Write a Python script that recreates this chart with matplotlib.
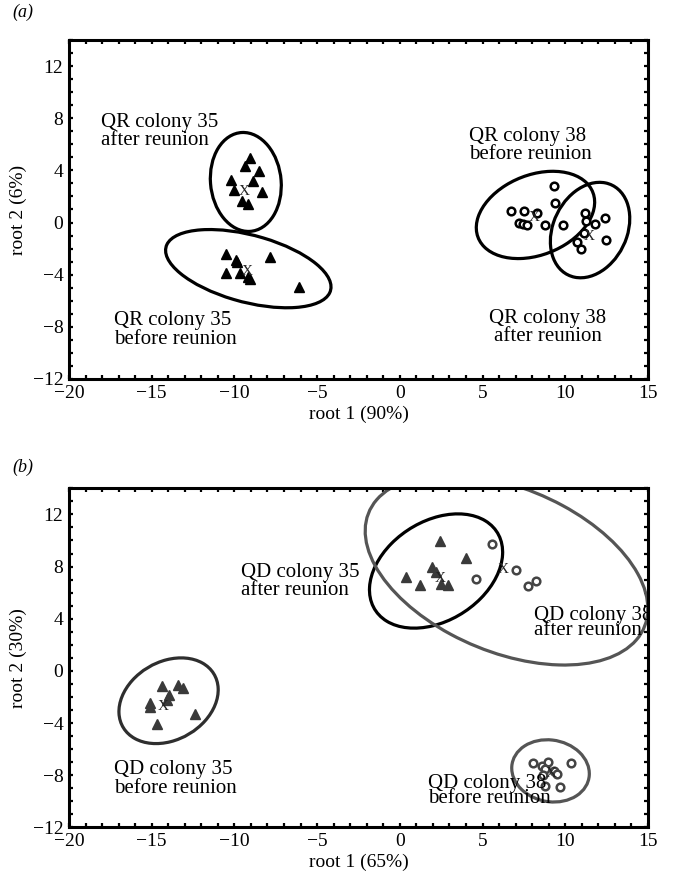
import numpy as np
import matplotlib.pyplot as plt
from matplotlib.patches import Ellipse
from matplotlib.ticker import MultipleLocator

plt.rcParams['font.family'] = ['Liberation Serif', 'DejaVu Serif']
plt.rcParams['mathtext.fontset'] = 'stix'

# ---- panel (a): QR ----
a35_after_x = [-9.03, -9.33, -8.50, -8.85, -10.18, -10.05, -8.31, -9.56, -9.15]
a35_after_y = [4.97, 4.36, 3.92, 3.21, 3.29, 2.52, 2.32, 1.63, 1.40]
a35_before_x = [-10.53, -9.93, -9.84, -7.83, -10.53, -9.65, -9.17, -9.08, -6.07]
a35_before_y = [-2.38, -2.84, -3.02, -2.61, -3.91, -3.88, -4.16, -4.32, -4.93]
a38_before_x = [6.74, 7.53, 8.31, 9.33, 9.35, 7.18, 7.44, 7.69, 8.75, 9.84]
a38_before_y = [0.91, 0.86, 0.71, 2.80, 1.50, -0.03, -0.08, -0.23, -0.16, -0.21]
a38_after_x = [11.20, 11.27, 11.82, 12.42, 11.13, 10.74, 10.97, 12.45]
a38_after_y = [0.76, 0.15, -0.08, 0.33, -0.80, -1.48, -2.00, -1.36]
a_centroids = [(-9.42, 2.39), (-9.24, -3.78), (8.13, 0.35), (11.43, -1.05)]
# ellipse: centre x, centre y, var x, var y, cov xy
a_ellipses = [(-9.31, 3.11, 4.6, 14.4, -0.6),
              (-9.16, -3.54, 25.0, 9.0, -7.0),
              (8.20, 0.58, 12.8, 11.2, 3.5),
              (11.50, -0.58, 5.76, 13.4, 2.1)]

# ---- panel (b): QD ----
b35_before_x = [-14.40, -13.40, -13.10, -13.94, -14.10, -15.09, -15.09, -12.36, -14.68]
b35_before_y = [-1.15, -1.10, -1.30, -1.87, -2.20, -2.45, -2.76, -3.32, -4.09]
b35_after_x = [2.43, 3.98, 1.93, 2.17, 0.36, 1.24, 2.47, 2.93]
b35_after_y = [9.98, 8.66, 7.99, 7.55, 7.22, 6.59, 6.66, 6.59]
b38_after_x = [5.56, 4.59, 7.03, 7.73, 8.24]
b38_after_y = [9.73, 7.05, 7.76, 6.53, 6.86]
b38_before_x = [8.03, 8.59, 8.98, 8.75, 9.33, 9.49, 10.37, 8.63, 8.75, 9.70]
b38_before_y = [-7.10, -7.30, -6.97, -7.50, -7.66, -7.91, -7.10, -7.99, -8.83, -8.93]
b_centroids = [(-14.28, -2.76), (2.43, 7.11), (6.27, 7.81), (9.17, -7.86)]
b_ellipses = [(-13.98, -2.29, 9.0, 10.8, 2.5),
              (2.19, 7.66, 16.2, 19.2, 5.8),
              (6.45, 7.75, 73.0, 53.3, -25.5),
              (9.11, -7.67, 5.5, 5.7, -0.5)]
b_ell_colors = ['#2e2e2e', 'black', '#555555', '#555555']

a_labels = [(-18.05, 7.0, 'QR colony 35\nafter reunion', 'left'),
            (4.2, 5.9, 'QR colony 38\nbefore reunion', 'left'),
            (-17.3, -8.25, 'QR colony 35\nbefore reunion', 'left'),
            (8.95, -8.05, 'QR colony 38\nafter reunion', 'center')]
b_labels = [(-9.63, 6.85, 'QD colony 35\nafter reunion', 'left', 0.95),
            (8.13, 3.68, 'QD colony 38\nafter reunion', 'left', 0.75),
            (-17.3, -8.3, 'QD colony 35\nbefore reunion', 'left', 0.95),
            (1.71, -9.2, 'QD colony 38\nbefore reunion', 'left', 0.75)]


def draw_ellipse(ax, e, color):
    cx, cy, sxx, syy, sxy = e
    vals, vecs = np.linalg.eigh(np.array([[sxx, sxy], [sxy, syy]]))
    ang = np.degrees(np.arctan2(vecs[1, 1], vecs[0, 1]))
    ell = Ellipse((cx, cy), 2*np.sqrt(vals[1]), 2*np.sqrt(vals[0]), angle=ang,
                  fill=False, edgecolor=color, lw=2.3, zorder=2)
    ax.add_patch(ell)


def style(ax, xlabel, ylabel):
    ax.set_xlim(-20, 15)
    ax.set_ylim(-12, 14)
    ax.xaxis.set_major_locator(MultipleLocator(5))
    ax.yaxis.set_major_locator(MultipleLocator(4))
    ax.xaxis.set_minor_locator(MultipleLocator(1))
    ax.yaxis.set_minor_locator(MultipleLocator(1))
    ax.tick_params(which='both', direction='in', top=True, right=True,
                   length=3, width=1.6, labelsize=14, pad=4)
    for s in ax.spines.values():
        s.set_linewidth(2.2)
    ax.set_xlabel(xlabel, fontsize=14, labelpad=3)
    ax.set_ylabel(ylabel, fontsize=14, labelpad=4)


fig = plt.figure(figsize=(6.73, 8.90), dpi=100)
ax1 = fig.add_axes([0.1025, 0.5742, 0.8603, 0.3809])
ax2 = fig.add_axes([0.1025, 0.0704, 0.8603, 0.3809])

# panel a
for e in a_ellipses:
    draw_ellipse(ax1, e, 'black')
ax1.plot(a35_after_x, a35_after_y, '^', color='black', ms=7.5, zorder=3)
ax1.plot(a35_before_x, a35_before_y, '^', color='black', ms=7.5, zorder=3)
ax1.plot(a38_before_x, a38_before_y, 'o', mfc='white', mec='black', ms=5.5, mew=1.8, zorder=3)
ax1.plot(a38_after_x, a38_after_y, 'o', mfc='white', mec='black', ms=5.5, mew=1.8, zorder=3)
for cx, cy in a_centroids:
    ax1.text(cx, cy, 'X', ha='center', va='center', fontsize=11, color='#222222', zorder=4)
for x, y, t, ha in a_labels:
    ax1.text(x, y, t, ha=ha, va='center', multialignment=ha, fontsize=15,
             linespacing=0.95, zorder=5)
style(ax1, 'root 1 (90%)', 'root 2 (6%)')

# panel b
for e, c in zip(b_ellipses, b_ell_colors):
    draw_ellipse(ax2, e, c)
ax2.plot(b35_before_x, b35_before_y, '^', color='#3a3a3a', ms=7.5, zorder=3)
ax2.plot(b35_after_x, b35_after_y, '^', color='#3a3a3a', ms=7.5, zorder=3)
ax2.plot(b38_after_x, b38_after_y, 'o', mfc='white', mec='#444444', ms=5.5, mew=1.8, zorder=3)
ax2.plot(b38_before_x, b38_before_y, 'o', mfc='white', mec='#444444', ms=5.5, mew=1.8, zorder=3)
for cx, cy in b_centroids:
    ax2.text(cx, cy, 'X', ha='center', va='center', fontsize=11, color='#222222', zorder=4)
for x, y, t, ha, ls in b_labels:
    ax2.text(x, y, t, ha=ha, va='center', multialignment=ha, fontsize=15,
             linespacing=ls, zorder=5, clip_on=True)
style(ax2, 'root 1 (65%)', 'root 2 (30%)')

fig.text(12/673, 1 - 12/890, '(a)', style='italic', fontsize=13, ha='left', va='center')
fig.text(12/673, 1 - 467/890, '(b)', style='italic', fontsize=13, ha='left', va='center')

fig.savefig('out.png', dpi=100)
